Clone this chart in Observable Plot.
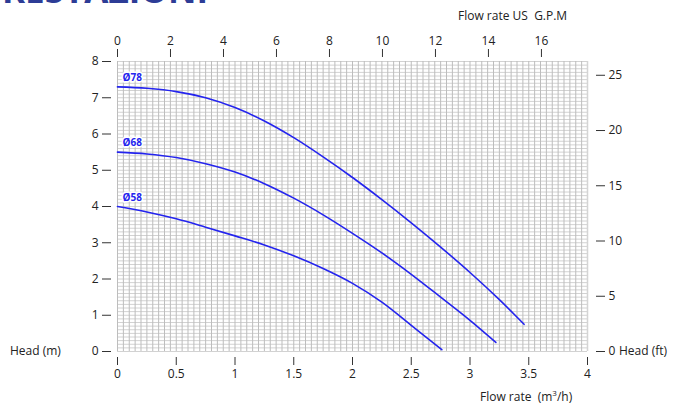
<!DOCTYPE html>
<html>
<head>
<meta charset="utf-8">
<script src="https://cdn.jsdelivr.net/npm/d3@7"></script>
<script src="https://cdn.jsdelivr.net/npm/@observablehq/plot@0.6"></script>
<style>
  html, body { margin: 0; padding: 0; background: #fff; }
  #wrap { position: relative; width: 675px; height: 405px; overflow: hidden; font-family: "Open Sans", sans-serif; color: #222; }
  #wrap svg { position: absolute; left: 0; top: 0; }
  .lbl { position: absolute; font-size: 12px; white-space: nowrap; line-height: 1; }
  #title { position: absolute; left: -20px; top: -28px; font-size: 35px; font-weight: 700; color: #2d3c96; line-height: 1; white-space: nowrap; }
</style>
</head>
<body>
<div id="wrap">
  <div id="title">PRESTAZIONI</div>
  <div class="lbl" style="left:458px; top:10px;">Flow rate US&nbsp; G.P.M</div>
  <div class="lbl" style="left:10px; top:345px;">Head (m)</div>
  <div class="lbl" style="left:619px; top:345px;">Head (ft)</div>
  <div class="lbl" style="left:480px; top:391px;">Flow rate&nbsp; (m<span style="font-size:8px; position:relative; top:-5px;">3</span>/h)</div>
</div>
<script>
// ---- data ----
const seriesNames = ["Ø78", "Ø68", "Ø58"];

const flowD78 = [0, 0.25, 0.5, 0.75, 1.0, 1.25, 1.5, 1.75, 2.0, 2.25, 2.5, 2.75, 3.0, 3.25, 3.46];
const headD78 = [7.3, 7.26, 7.17, 7.0, 6.73, 6.36, 5.9, 5.37, 4.8, 4.19, 3.55, 2.88, 2.18, 1.43, 0.75];

const flowD68 = [0, 0.25, 0.5, 0.75, 1.0, 1.25, 1.5, 1.75, 2.0, 2.25, 2.5, 2.75, 3.0, 3.22];
const headD68 = [5.5, 5.45, 5.35, 5.18, 4.95, 4.63, 4.23, 3.77, 3.26, 2.72, 2.13, 1.5, 0.86, 0.25];

const flowD58 = [0, 0.25, 0.5, 0.75, 1.0, 1.25, 1.5, 1.75, 2.0, 2.25, 2.5, 2.76];
const headD58 = [4.0, 3.85, 3.66, 3.43, 3.19, 2.94, 2.64, 2.29, 1.88, 1.36, 0.72, 0.05];

const flowTicks = [0, 0.5, 1, 1.5, 2, 2.5, 3, 3.5, 4];
const headTicks = [0, 1, 2, 3, 4, 5, 6, 7, 8];
const gpmTicks = [0, 2, 4, 6, 8, 10, 12, 14, 16];
const ftTicks = [0, 5, 10, 15, 20, 25];

// unit conversions (used only to place the secondary axes)
const M3H_PER_GPM = 0.2255;
const M_PER_FT = 0.3048;

// ---- build table ----
const rows = [];
[[seriesNames[0], flowD78, headD78], [seriesNames[1], flowD68, headD68], [seriesNames[2], flowD58, headD58]]
  .forEach(([name, fx, hy]) => fx.forEach((f, i) => rows.push({series: name, flow: f, head: hy[i]})));
const starts = rows.filter(d => d.flow === 0);

const blue = "#2424ee";
const fontFam = "Open Sans, sans-serif";

const chart = Plot.plot({
  width: 675,
  height: 405,
  marginLeft: 117,
  marginRight: 88,
  marginTop: 61,
  marginBottom: 54,
  style: {fontFamily: fontFam, fontSize: "12px", color: "#222", background: "transparent"},
  x: {domain: [0, 4]},
  y: {domain: [0, 8]},
  marks: [
    // grid
    Plot.ruleY(d3.range(0, 8.0001, 0.1), {stroke: "#d2d2d2", strokeWidth: 1}),
    Plot.ruleX(d3.range(0, 4.0001, 0.05), {stroke: "#bdbdbd", strokeWidth: 1}),
    Plot.ruleX([4], {stroke: "#d4d4d4", strokeWidth: 1.5}),
    // curves
    Plot.line(rows, {x: "flow", y: "head", z: "series", stroke: blue, strokeWidth: 1.6, curve: "catmull-rom"}),
    Plot.text(starts, {x: "flow", y: "head", text: "series", dx: 5, dy: -9, textAnchor: "start",
      fill: blue, fontSize: 10, fontWeight: "bold", stroke: "white", strokeWidth: 3}),
    // axes
    Plot.axisX(flowTicks, {anchor: "bottom", tickSize: 8, dy: 6, tickPadding: 4, label: null, tickFormat: d => String(d), stroke: "#333"}),
    Plot.axisX(gpmTicks.map(g => g * M3H_PER_GPM), {anchor: "top", tickSize: 8, dy: -5, tickPadding: 4, label: null,
      tickFormat: (d, i) => String(gpmTicks[i]), stroke: "#333"}),
    Plot.axisY(headTicks, {anchor: "left", tickSize: 9, dx: -6, tickPadding: 4, label: null, tickFormat: d => String(d), stroke: "#333"}),
    Plot.axisY(ftTicks.map(f => f * M_PER_FT), {anchor: "right", tickSize: 9, dx: 8, tickPadding: 4, label: null,
      tickFormat: (d, i) => String(ftTicks[i]), stroke: "#333"})
  ]
});
document.getElementById("wrap").prepend(chart);
</script>
</body>
</html>
